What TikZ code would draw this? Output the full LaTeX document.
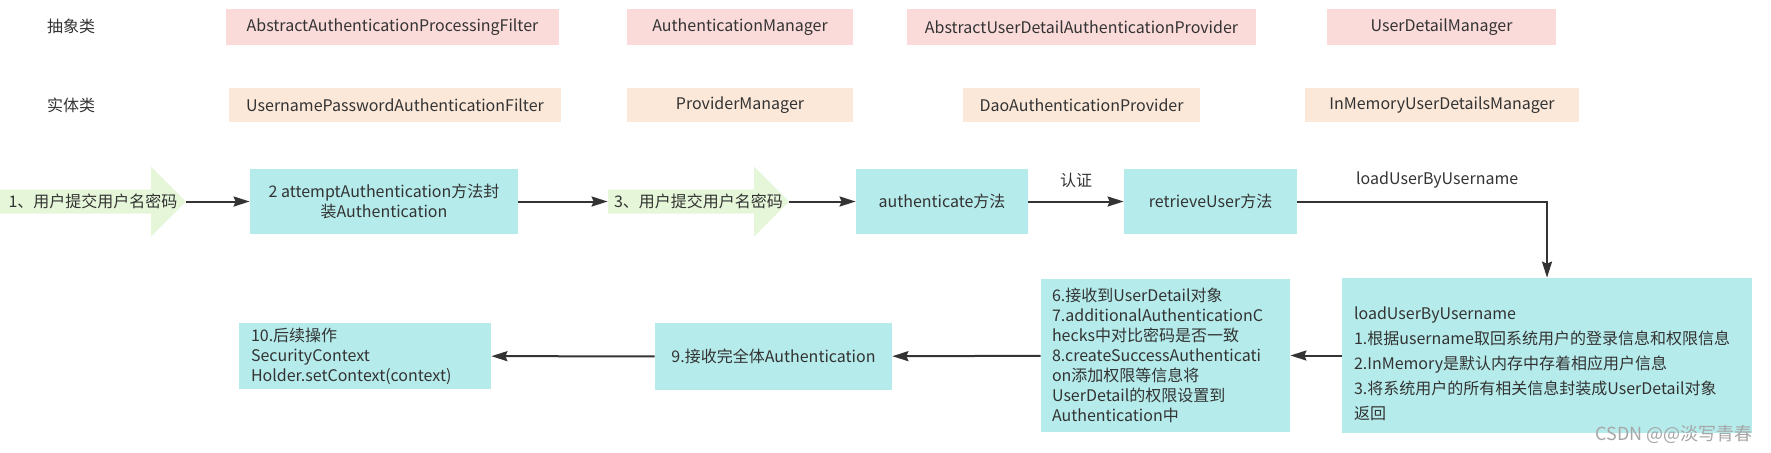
\documentclass[tikz,border=0pt]{standalone}
\usepackage{fontspec}
\setmainfont{Noto Sans CJK SC}
\usetikzlibrary{arrows.meta}
\usetikzlibrary{calc}
\definecolor{abspink}{HTML}{FADBDA}
\definecolor{implpeach}{HTML}{FBE8D9}
\definecolor{stepcyan}{HTML}{B6EBEB}
\definecolor{inputgreen}{HTML}{E5F6D9}
\definecolor{textgray}{HTML}{333333}
\definecolor{linegray}{HTML}{333333}
\hyphenpenalty=10000
\tikzstyle{rowlabel}=[text=textgray, inner sep=0pt]
\tikzstyle{absbox}=[fill=abspink, minimum height=18pt, inner sep=0pt, text=textgray]
\tikzstyle{implbox}=[fill=implpeach, minimum height=17pt, inner sep=0pt, text=textgray]
\tikzstyle{stepbox}=[fill=stepcyan, inner sep=0pt, text=textgray, align=center]
\tikzstyle{notebox}=[fill=stepcyan, inner xsep=6pt, inner ysep=0pt, text=textgray, align=left]
\tikzstyle{inarrow}=[%
  fill=white,
  minimum height=35pt,
  inner sep=0pt,
  text=textgray,
  path picture={%
    \fill[inputgreen] ($(path picture bounding box.west)+(0pt,6pt)$)
      -- ($(path picture bounding box.east)+(-17.5pt,6pt)$)
      -- ($(path picture bounding box.east)+(-17.5pt,17.5pt)$)
      -- (path picture bounding box.east)
      -- ($(path picture bounding box.east)+(-17.5pt,-17.5pt)$)
      -- ($(path picture bounding box.east)+(-17.5pt,-6pt)$)
      -- ($(path picture bounding box.west)+(0pt,-6pt)$) -- cycle;
  }
]
\tikzstyle{flow}=[line width=1pt, draw=linegray, -{Stealth[length=8pt, width=5pt, inset=1pt]}]

\begin{document}
\begin{tikzpicture}[x=0.5pt, y=-0.5pt, font=\fontsize{8pt}{10pt}\selectfont]
    \useasboundingbox (0,0) rectangle (1771,452);

    \node[rowlabel] (abstract) at (71,26) {抽象类};
    \node[rowlabel] (concrete) at (71,105) {实体类};

    \node[absbox, minimum width=166.5pt] (aapf) at (392.5,27) {AbstractAuthenticationProcessingFilter};
    \node[absbox, minimum width=113pt] (am) at (740,27) {AuthenticationManager};
    \node[absbox, minimum width=174.5pt] (audap) at (1081.5,27) {AbstractUserDetailAuthenticationProvider};
    \node[absbox, minimum width=114.5pt] (udm) at (1441.5,27) {UserDetailManager};

    \node[implbox, minimum width=166pt] (upaf) at (395,105) {UsernamePasswordAuthenticationFilter};
    \node[implbox, minimum width=113pt] (pm) at (740,105) {ProviderManager};
    \node[implbox, minimum width=118.5pt] (dap) at (1081.5,105) {DaoAuthenticationProvider};
    \node[implbox, minimum width=137pt] (imudm) at (1442,105) {InMemoryUserDetailsManager};

    \node[inarrow, minimum width=93pt] (submit1) at (93,201.5) {1、用户提交用户名密码};
    \node[stepbox, minimum width=134pt, minimum height=32.5pt] (attempt) at (384,201.5) {2 attemptAuthentication方法封\\装Authentication};
    \node[inarrow, minimum width=90.5pt] (submit3) at (698.5,201.5) {3、用户提交用户名密码};
    \node[stepbox, minimum width=86pt, minimum height=32.5pt] (authenticate) at (942,201.5) {authenticate方法};
    \node[stepbox, minimum width=86.5pt, minimum height=32.5pt] (retrieve) at (1210.5,201.5) {retrieveUser方法};

    \node[notebox, text width=193pt, minimum height=77.5pt, font=\fontsize{8pt}{12.5pt}\selectfont] (loaduser) at (1547,355.5) {\mbox{}\\[2pt]loadUserByUsername\\1.根据username取回系统用户的登录信息和权限信息\\2.InMemory是默认内存中存着相应用户信息\\3.将系统用户的所有相关信息封装成UserDetail对象\\返回};
    \node[notebox, text width=113.5pt, inner xsep=5.5pt, minimum height=76.5pt] (checks) at (1165.5,355.5) {6.接收到UserDetail对象\\7.additionalAuthenticationC\\hecks中对比密码是否一致\\8.createSuccessAuthenticati\\on添加权限等信息将\\UserDetail的权限设置到\\Authentication中};
    \node[stepbox, minimum width=118.5pt, minimum height=33.5pt] (full) at (773.5,356.5) {9.接收完全体Authentication};
    \node[notebox, text width=114pt, minimum height=33pt] (after) at (365,356) {10.后续操作\\SecurityContext\\Holder.setContext(context)};

    \draw[flow] (submit1) -- (attempt);
    \draw[flow] (attempt) -- (submit3);
    \draw[flow] (submit3) -- (authenticate);
    \draw[flow] (authenticate) -- node[above=3pt, text=textgray] (verify) {认证} (retrieve);
    \draw[flow] (retrieve) -| node[pos=0.28, above=3pt, text=textgray] (loadlabel) {loadUserByUsername} (loaduser);
    \draw[flow] (loaduser) -- (checks);
    \draw[flow] (checks) -- (full);
    \draw[flow] (full) -- (after);

    \node[text=gray!70, font=\fontsize{9pt}{9pt}\selectfont] (mark) at (1674,434) {CSDN @@淡写青春};
  \end{tikzpicture}
\end{document}
